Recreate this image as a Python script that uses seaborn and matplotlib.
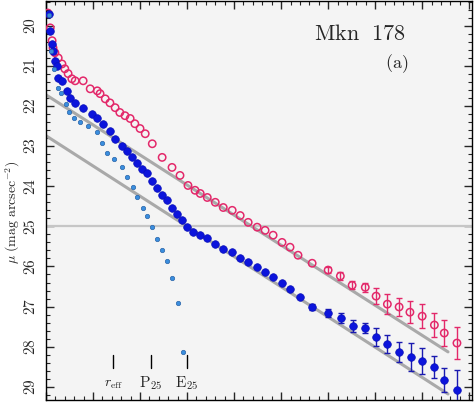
import numpy as np
import seaborn as sns
import matplotlib.pyplot as plt
from matplotlib.ticker import MultipleLocator, FuncFormatter

# outer profile (open circles)
pink_r = [0.04, 0.09, 0.13, 0.15, 0.19, 0.26, 0.34, 0.40, 0.47, 0.55, 0.62, 0.79, 0.94, 1.09,
          1.15, 1.26, 1.36, 1.47, 1.57, 1.68, 1.79, 1.89, 2.00, 2.11, 2.26, 2.47, 2.68, 2.85,
          3.02, 3.17, 3.28, 3.43, 3.60, 3.77, 3.96, 4.13, 4.30, 4.49, 4.66, 4.83, 5.02, 5.19,
          5.36, 5.66, 6.00, 6.26, 6.51, 6.79, 7.02, 7.26, 7.51, 7.74, 8.00, 8.26, 8.47, 8.74]
pink_mu = [19.68, 20.05, 20.37, 20.55, 20.67, 20.80, 20.95, 21.07, 21.19, 21.32, 21.37, 21.37,
           21.57, 21.62, 21.69, 21.82, 21.92, 22.04, 22.16, 22.24, 22.31, 22.44, 22.56, 22.69,
           22.94, 23.28, 23.53, 23.73, 23.98, 24.10, 24.18, 24.28, 24.40, 24.53, 24.60, 24.73,
           24.90, 25.02, 25.10, 25.22, 25.40, 25.52, 25.72, 25.92, 26.09, 26.24, 26.47, 26.52,
           26.74, 26.94, 27.01, 27.14, 27.24, 27.46, 27.66, 27.91]
pink_err = [0.0] * 43 + [0.05, 0.07, 0.10, 0.10, 0.12, 0.20, 0.25, 0.22, 0.28, 0.30, 0.30, 0.33, 0.40]

# filled circles
blue_r = [0.06, 0.09, 0.13, 0.15, 0.19, 0.23, 0.26, 0.34, 0.45, 0.51, 0.62, 0.79, 0.98, 1.09,
          1.21, 1.36, 1.47, 1.62, 1.72, 1.83, 1.94, 2.04, 2.15, 2.26, 2.36, 2.47, 2.57, 2.68,
          2.79, 2.89, 3.00, 3.13, 3.28, 3.43, 3.60, 3.77, 3.96, 4.13, 4.30, 4.49, 4.66, 4.83,
          5.02, 5.19, 5.40, 5.66, 6.00, 6.28, 6.53, 6.79, 7.02, 7.26, 7.51, 7.77, 8.00, 8.26,
          8.47, 8.74]
blue_mu = [19.70, 20.12, 20.45, 20.62, 20.87, 21.00, 21.29, 21.37, 21.62, 21.79, 21.92, 22.04,
           22.19, 22.29, 22.44, 22.61, 22.81, 22.99, 23.11, 23.28, 23.43, 23.56, 23.68, 23.88,
           24.05, 24.23, 24.35, 24.53, 24.68, 24.85, 25.02, 25.15, 25.22, 25.30, 25.45, 25.57,
           25.65, 25.80, 25.90, 26.02, 26.14, 26.27, 26.42, 26.57, 26.77, 27.01, 27.16, 27.29,
           27.49, 27.54, 27.76, 27.94, 28.13, 28.26, 28.36, 28.51, 28.83, 29.08]
blue_err = [0.0] * 43 + [0.03, 0.05, 0.07, 0.10, 0.12, 0.15, 0.13, 0.22, 0.22, 0.25, 0.35,
                         0.33, 0.28, 0.30, 0.50]

# steep inner component (small dots)
burst_r = [0.06, 0.11, 0.17, 0.26, 0.32, 0.43, 0.49, 0.60, 0.72, 0.89, 1.09, 1.19, 1.30, 1.45,
           1.62, 1.72, 1.85, 1.94, 2.06, 2.15, 2.26, 2.36, 2.47, 2.57, 2.68, 2.81, 2.91]
burst_mu = [19.73, 20.62, 21.07, 21.54, 21.67, 21.94, 22.16, 22.31, 22.39, 22.49, 22.64, 22.91,
            23.16, 23.33, 23.53, 23.78, 24.03, 24.28, 24.53, 24.75, 25.02, 25.32, 25.60, 25.87,
            26.29, 26.92, 28.13]

# exponential fits
fit_r = [0.0, 8.55]
fit_pink = [21.72, 28.13]
fit_blue = [22.74, 29.18]

marks = ['$r_{\\rm eff}$', '$\\mathrm{P}_{25}$', '$\\mathrm{E}_{25}$']
mark_r = [1.43, 2.23, 3.00]

sns.set_style('ticks')
plt.rcParams['font.family'] = ['DejaVu Serif']
plt.rcParams['mathtext.fontset'] = 'cm'

fig = plt.figure(figsize=(4.74, 4.03), dpi=100)
ax = fig.add_axes([46 / 474, 3 / 403, 426 / 474, 399 / 403])
ax.set_facecolor('#f4f4f4')

ax.axhline(25, color='#c6c6c6', lw=1.6, zorder=1)
sns.lineplot(x=fit_r, y=fit_pink, ax=ax, color='#a9a9a9', lw=2.2, zorder=2)
sns.lineplot(x=fit_r, y=fit_blue, ax=ax, color='#a9a9a9', lw=2.2, zorder=2)

pe = np.array(pink_err)
m = pe > 0.06
ax.errorbar(np.array(pink_r)[m], np.array(pink_mu)[m], yerr=pe[m], fmt='none',
            ecolor='#e3286a', elinewidth=1, capsize=2.5, zorder=3)
be = np.array(blue_err)
m = be > 0.06
ax.errorbar(np.array(blue_r)[m], np.array(blue_mu)[m], yerr=be[m], fmt='none',
            ecolor='#1a1ab0', elinewidth=1, capsize=2.5, zorder=3)

sns.scatterplot(x=pink_r, y=pink_mu, ax=ax, marker='o', s=28, fc='none',
                ec='#e3286a', linewidth=1.1, zorder=4)
sns.scatterplot(x=blue_r, y=blue_mu, ax=ax, marker='o', s=30, color='#0c14dc',
                edgecolor='#0a10b8', linewidth=0.5, zorder=5)
sns.scatterplot(x=burst_r, y=burst_mu, ax=ax, marker='o', s=10, color='#3a8ede',
                edgecolor='#2a64a8', linewidth=0.5, zorder=6)

for r, lab in zip(mark_r, marks):
    ax.plot([r, r], [28.21, 28.53], color='black', lw=1)
    ax.text(r, 28.92, lab, ha='center', va='center', fontsize=11 if 'eff' not in lab else 10)

ax.text(0.737, 0.918, r'$\mathrm{Mkn\ \ 178}$', transform=ax.transAxes,
        ha='center', va='center', fontsize=16)
ax.text(0.824, 0.843, r'$\mathrm{(a)}$', transform=ax.transAxes,
        ha='center', va='center', fontsize=13)

ax.set_xlim(0, 9.06)
ax.set_ylim(29.33, 19.38)
ax.xaxis.set_major_locator(MultipleLocator(1))
ax.xaxis.set_minor_locator(MultipleLocator(0.2))
ax.yaxis.set_major_locator(MultipleLocator(1))
ax.yaxis.set_minor_locator(MultipleLocator(0.2))
ax.tick_params(which='both', direction='in', top=True, right=True, labelbottom=False)
ax.tick_params(which='major', length=6, width=1)
ax.tick_params(which='minor', length=3, width=0.8)
ax.tick_params(axis='y', pad=6)
ax.yaxis.set_major_formatter(FuncFormatter(lambda v, p: r'$\mathrm{%d}$' % round(v)))
for t in ax.get_yticklabels():
    t.set_rotation(90)
    t.set_va('center')
    t.set_fontsize(11)
ax.set_ylabel(r'$\mu\ \mathrm{(mag\ arcsec^{-2})}$', fontsize=10)
ax.yaxis.set_label_coords(-0.057, 0.47)
for s in ax.spines.values():
    s.set_color('black')
    s.set_linewidth(1)

fig.savefig('out.png', dpi=100)
